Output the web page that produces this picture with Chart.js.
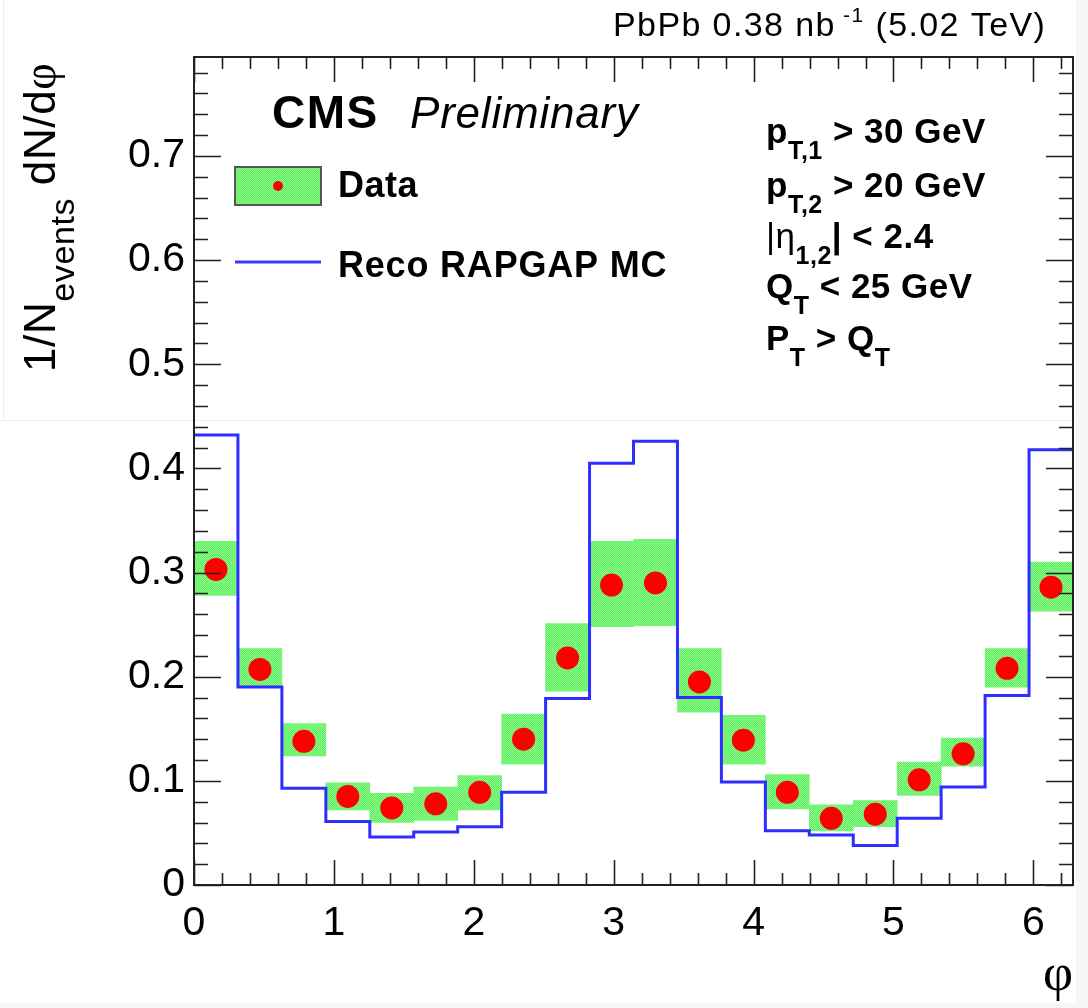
<!DOCTYPE html>
<html>
<head>
<meta charset="utf-8">
<script src="https://cdn.jsdelivr.net/npm/chart.js@4.4.1/dist/chart.umd.min.js"></script>
<style>
  html, body { margin: 0; padding: 0; background: #fff; }
  #wrap { width: 1088px; height: 1008px; position: relative; }
</style>
</head>
<body>
<div id="wrap"><canvas id="phi-chart"></canvas></div>
<script>
// phi distribution, 20 bins over [0, 2pi]
const nBins = 20;
const binWidth = Math.PI / 10;

// measured values per bin
const dataVal = [0.303, 0.207, 0.138, 0.085, 0.074, 0.078, 0.089, 0.140, 0.218, 0.288,
                 0.290, 0.195, 0.139, 0.089, 0.064, 0.068, 0.101, 0.126, 0.208, 0.286];
// systematic band (low / high edge of green box)
const sysLow  = [0.278, 0.191, 0.124, 0.072, 0.060, 0.062, 0.072, 0.116, 0.186, 0.248,
                 0.249, 0.166, 0.116, 0.073, 0.052, 0.056, 0.086, 0.114, 0.190, 0.263];
const sysHigh = [0.330, 0.227, 0.155, 0.098, 0.088, 0.094, 0.105, 0.164, 0.251, 0.330,
                 0.332, 0.227, 0.163, 0.106, 0.077, 0.081, 0.118, 0.141, 0.227, 0.310];
// Reco RAPGAP MC histogram
const mcVal   = [0.432, 0.190, 0.093, 0.061, 0.046, 0.051, 0.056, 0.089, 0.179, 0.405,
                 0.426, 0.180, 0.099, 0.052, 0.048, 0.038, 0.064, 0.094, 0.182, 0.418];

const xTicks = [0, 1, 2, 3, 4, 5, 6];
const yTicks = [0, 0.1, 0.2, 0.3, 0.4, 0.5, 0.6, 0.7];
const yMax = 0.795;

const SANS = '"Liberation Sans", Arial, Helvetica, sans-serif';
const SERIF = '"Liberation Serif", "Times New Roman", serif';

// green checkered fill like ROOT's hatch style
function makeGreenPattern() {
  const c = document.createElement("canvas");
  c.width = 2; c.height = 2;
  const g = c.getContext("2d");
  g.fillStyle = "#5cf05c";
  g.fillRect(0, 0, 2, 2);
  g.fillStyle = "#8ef78e";
  g.fillRect(0, 0, 1, 1);
  g.fillRect(1, 1, 1, 1);
  return g.createPattern(c, "repeat");
}
const greenFill = makeGreenPattern();

const centers = dataVal.map((v, i) => (i + 0.5) * binWidth);
const boxData = centers.map((x, i) => ({ x: x, y: [sysLow[i], sysHigh[i]] }));
const pointData = centers.map((x, i) => ({ x: x, y: dataVal[i] }));
const mcData = mcVal.map((v, i) => ({ x: i * binWidth, y: v }));
mcData.push({ x: nBins * binWidth, y: mcVal[nBins - 1] });

// draw a run of text pieces one after another
function drawRich(ctx, x, y, parts, spacing) {
  let cx = x;
  ctx.letterSpacing = (spacing || 0) + "px";
  parts.forEach((p) => {
    ctx.font = p.font;
    ctx.fillText(p.t, cx, y + (p.dy || 0));
    cx += ctx.measureText(p.t).width;
  });
  ctx.letterSpacing = "0px";
}

const framePlugin = {
  id: "rootFrame",
  beforeDraw(chart) {
    const ctx = chart.ctx;
    ctx.save();
    // faint edges of the original screenshot
    ctx.fillStyle = "#f6f6f6";
    ctx.fillRect(1076, 0, 12, 1008);
    ctx.fillRect(0, 1003, 1088, 5);
    ctx.fillStyle = "#efefef";
    ctx.fillRect(0, 420, 1076, 1);
    ctx.fillRect(3, 0, 1, 420);
    ctx.restore();
  },
  afterDatasetsDraw(chart) {
    const ctx = chart.ctx;
    const a = chart.chartArea;
    const xs = chart.scales.x;
    const ys = chart.scales.y;
    ctx.save();
    ctx.strokeStyle = "#222";
    ctx.lineWidth = 1.6;
    ctx.beginPath();
    // x ticks, bottom and top, pointing inward
    for (let k = 0; k * 0.2 <= xs.max + 1e-9; k++) {
      const major = k % 5 === 0;
      const len = major ? 25 : 12;
      const px = Math.round(xs.getPixelForValue(k * 0.2)) + 0.5;
      ctx.moveTo(px, a.bottom); ctx.lineTo(px, a.bottom - len);
      ctx.moveTo(px, a.top); ctx.lineTo(px, a.top + len);
    }
    // y ticks, left and right
    for (let k = 0; k * 0.02 <= ys.max + 1e-9; k++) {
      const major = k % 5 === 0;
      const len = major ? 27 : 14;
      const py = Math.round(ys.getPixelForValue(k * 0.02)) + 0.5;
      ctx.moveTo(a.left, py); ctx.lineTo(a.left + len, py);
      ctx.moveTo(a.right, py); ctx.lineTo(a.right - len, py);
    }
    ctx.stroke();
    ctx.lineWidth = 2;
    ctx.strokeRect(a.left, a.top, a.right - a.left, a.bottom - a.top);
    ctx.restore();
  },
  afterDraw(chart) {
    const ctx = chart.ctx;
    ctx.save();
    ctx.fillStyle = "#000";
    ctx.textBaseline = "alphabetic";
    ctx.textAlign = "left";

    // top label
    drawRich(ctx, 613, 36, [
      { t: "PbPb 0.38 nb", font: "34px " + SANS },
      { t: " -1", font: "21px " + SANS, dy: -14 },
      { t: " (5.02 TeV)", font: "34px " + SANS }
    ], 1.4);

    // CMS Preliminary
    drawRich(ctx, 272, 128, [{ t: "CMS", font: "bold 46px " + SANS }], 1.5);
    drawRich(ctx, 410, 128, [{ t: "Preliminary", font: "italic 44px " + SANS }], 0.8);

    // legend
    ctx.fillStyle = greenFill;
    ctx.fillRect(235, 167, 86, 38);
    ctx.strokeStyle = "#555";
    ctx.lineWidth = 2;
    ctx.strokeRect(235, 167, 86, 38);
    ctx.fillStyle = "#ff0000";
    ctx.beginPath();
    ctx.arc(278, 186, 5, 0, Math.PI * 2);
    ctx.fill();
    ctx.strokeStyle = "#3a3aff";
    ctx.lineWidth = 3;
    ctx.beginPath();
    ctx.moveTo(235, 262); ctx.lineTo(321, 262);
    ctx.stroke();
    ctx.fillStyle = "#000";
    drawRich(ctx, 338, 197, [{ t: "Data", font: "bold 36px " + SANS }], 0.5);
    drawRich(ctx, 338, 277, [{ t: "Reco RAPGAP MC", font: "bold 36px " + SANS }], 0.8);

    // selection cuts
    const B = "bold 35px " + SANS;
    const S = "bold 25px " + SANS;
    const R = "35px " + SANS;
    drawRich(ctx, 766, 143, [{ t: "p", font: B }, { t: "T,1", font: S, dy: 16 }, { t: " > 30 GeV", font: B }], 0.5);
    drawRich(ctx, 766, 197, [{ t: "p", font: B }, { t: "T,2", font: S, dy: 16 }, { t: " > 20 GeV", font: B }], 0.5);
    drawRich(ctx, 766, 248, [{ t: "|η", font: R }, { t: "1,2", font: S, dy: 16 }, { t: "| < 2.4", font: B }], 0.5);
    drawRich(ctx, 766, 298, [{ t: "Q", font: B }, { t: "T", font: S, dy: 16 }, { t: " < 25 GeV", font: B }], 0.5);
    drawRich(ctx, 766, 350, [{ t: "P", font: B }, { t: "T", font: S, dy: 16 }, { t: " > Q", font: B }, { t: "T", font: S, dy: 16 }], 0.5);

    // x axis title
    ctx.font = "52px " + SERIF;
    ctx.textAlign = "right";
    ctx.fillText("φ", 1073, 990);
    ctx.textAlign = "left";

    // y axis title, rotated
    ctx.translate(55, 372);
    ctx.rotate(-Math.PI / 2);
    drawRich(ctx, 0, 0, [
      { t: "1/N", font: "44px " + SANS },
      { t: "events", font: "34px " + SANS, dy: 19 },
      { t: " dN/d", font: "44px " + SANS },
      { t: "φ", font: "46px " + SERIF }
    ], 0.6);
    ctx.restore();
  }
};

const ctx = document.getElementById("phi-chart").getContext("2d");
const phiChart = new Chart(ctx, {
  type: "bar",
  data: {
    datasets: [
      {
        type: "scatter",
        label: "Data",
        data: pointData,
        pointRadius: 11.5,
        pointBackgroundColor: "#ff0000",
        pointBorderWidth: 0,
        showLine: false,
        order: 0
      },
      {
        type: "line",
        label: "Reco RAPGAP MC",
        data: mcData,
        stepped: "before",
        borderColor: "#2e2eff",
        borderWidth: 3,
        pointRadius: 0,
        fill: false,
        order: 1
      },
      {
        type: "bar",
        label: "Data syst.",
        data: boxData,
        backgroundColor: greenFill,
        borderWidth: 0,
        barPercentage: 1.0,
        categoryPercentage: 1.0,
        order: 2
      }
    ]
  },
  options: {
    responsive: true,
    maintainAspectRatio: false,
    animation: false,
    layout: { padding: { left: 0, right: 15, top: 57, bottom: 0 } },
    plugins: {
      legend: { display: false },
      tooltip: { enabled: false }
    },
    scales: {
      x: {
        type: "linear",
        min: 0,
        max: 2 * Math.PI,
        offset: false,
        grid: { display: false, drawTicks: false },
        border: { display: false },
        afterBuildTicks: (scale) => {
          scale.ticks = xTicks.map((v) => ({ value: v }));
        },
        afterFit: (scale) => { scale.height = 123; },
        ticks: {
          padding: 14,
          color: "#000",
          font: { family: SANS, size: 41 },
          maxRotation: 0,
          autoSkip: false
        }
      },
      y: {
        type: "linear",
        min: 0,
        max: yMax,
        grid: { display: false, drawTicks: false },
        border: { display: false },
        afterBuildTicks: (scale) => {
          scale.ticks = yTicks.map((v) => ({ value: v }));
        },
        afterFit: (scale) => { scale.width = 194; },
        ticks: {
          padding: 9,
          color: "#000",
          font: { family: SANS, size: 41 },
          callback: (v) => String(Math.round(v * 10) / 10)
        }
      }
    }
  },
  plugins: [framePlugin]
});
</script>
</body>
</html>
